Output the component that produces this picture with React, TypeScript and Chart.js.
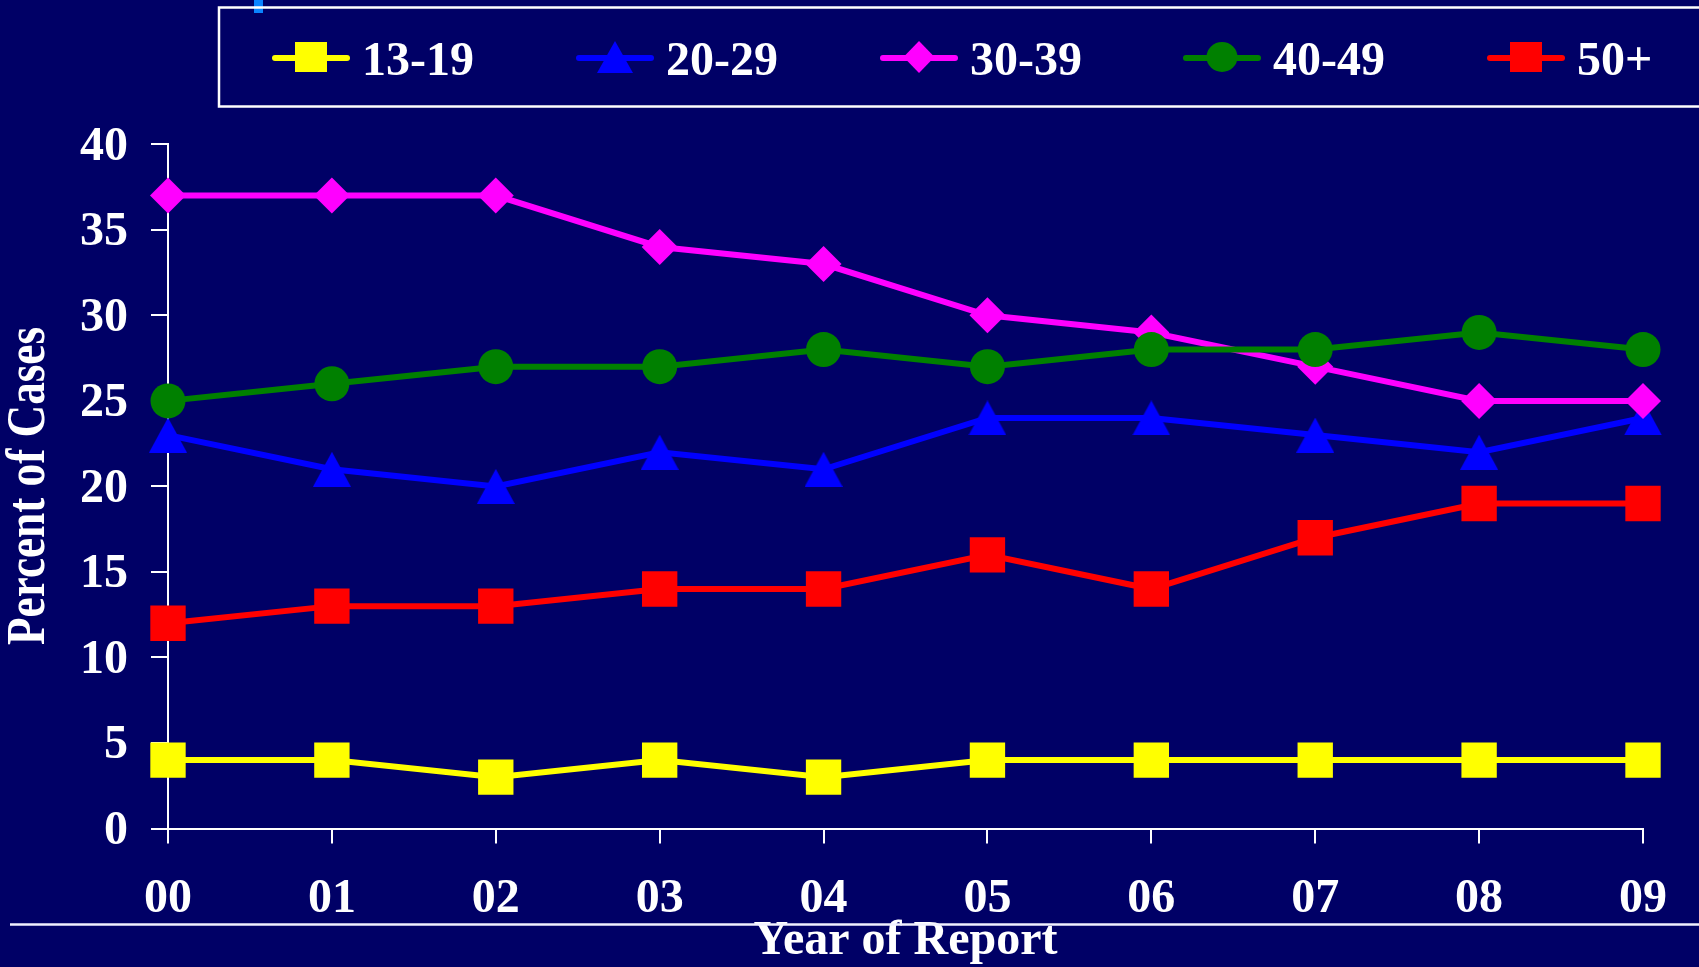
import React, { useEffect, useRef } from 'react';
import { Chart, registerables } from 'chart.js';

Chart.register(...registerables);

// ---------- data ----------
const years = ['00', '01', '02', '03', '04', '05', '06', '07', '08', '09'];
const seriesLabels = ['13-19', '20-29', '30-39', '40-49', '50+'];
const ages13to19 = [4, 4, 3, 4, 3, 4, 4, 4, 4, 4];
const ages20to29 = [23, 21, 20, 22, 21, 24, 24, 23, 22, 24];
const ages30to39 = [37, 37, 37, 34, 33, 30, 29, 27, 25, 25];
const ages40to49 = [25, 26, 27, 27, 28, 27, 28, 28, 29, 28];
const ages50plus = [12, 13, 13, 14, 14, 16, 14, 17, 19, 19];
const yMin = 0;
const yMax = 40;
const yStep = 5;
const xTitle = 'Year of Report';
const yTitle = 'Percent of Cases';

// ---------- style ----------
const FONT = '"Liberation Serif", "Times New Roman", serif';
const BG = '#000066';
const colors = ['#FFFF00', '#0000FF', '#FF00FF', '#008000', '#FF0000'];
const markers = ['square', 'triangle', 'diamond', 'circle', 'square'];

function makeTriangle(w: number, h: number, color: string) {
  const c = document.createElement('canvas');
  c.width = w;
  c.height = h;
  const g = c.getContext('2d')!;
  g.fillStyle = color;
  g.beginPath();
  g.moveTo(w / 2, 0);
  g.lineTo(w, h);
  g.lineTo(0, h);
  g.closePath();
  g.fill();
  return c;
}

function drawLegendMarker(ctx: CanvasRenderingContext2D, kind: string, x: number, y: number, color: string) {
  ctx.fillStyle = color;
  ctx.beginPath();
  if (kind === 'square') {
    ctx.rect(x - 16, y - 15, 32, 30);
  } else if (kind === 'triangle') {
    ctx.moveTo(x, y - 16);
    ctx.lineTo(x + 18, y + 16);
    ctx.lineTo(x - 18, y + 16);
    ctx.closePath();
  } else if (kind === 'diamond') {
    ctx.moveTo(x, y - 16);
    ctx.lineTo(x + 15.5, y);
    ctx.lineTo(x, y + 16);
    ctx.lineTo(x - 15.5, y);
    ctx.closePath();
  } else {
    ctx.ellipse(x, y, 15.5, 15, 0, 0, Math.PI * 2);
  }
  ctx.fill();
}

const decorPlugin = {
  id: 'decor',
  beforeDraw(chart: any) {
    const ctx = chart.ctx as CanvasRenderingContext2D;
    ctx.save();
    ctx.fillStyle = BG;
    ctx.fillRect(0, 0, chart.width, chart.height);
    ctx.restore();
  },
  afterDraw(chart: any) {
    const ctx = chart.ctx as CanvasRenderingContext2D;
    ctx.save();
    // small blue artifact at top
    ctx.fillStyle = '#0A84FF';
    ctx.fillRect(254, 0, 9, 13);

    // legend box
    ctx.strokeStyle = '#FFFFFF';
    ctx.lineWidth = 2.5;
    ctx.strokeRect(219, 7.5, 1600, 99);

    // legend items
    const starts = [272, 576, 880, 1183, 1487];
    const ly = 58;
    seriesLabels.forEach((lab, i) => {
      const xs = starts[i];
      ctx.strokeStyle = colors[i];
      ctx.lineWidth = 6;
      ctx.lineCap = 'round';
      ctx.beginPath();
      ctx.moveTo(xs + 3, ly);
      ctx.lineTo(xs + 75, ly);
      ctx.stroke();
      drawLegendMarker(ctx, markers[i], xs + 39, ly - 1, colors[i]);
      ctx.fillStyle = '#FFFFFF';
      ctx.font = `bold 48px ${FONT}`;
      ctx.textAlign = 'left';
      ctx.textBaseline = 'alphabetic';
      ctx.fillText(lab, xs + 90, 75);
    });

    // y-axis title (condensed, rotated)
    ctx.font = `bold 55px ${FONT}`;
    const w = ctx.measureText(yTitle).width;
    const sx = 318 / w;
    ctx.translate(44, 486);
    ctx.rotate(-Math.PI / 2);
    ctx.scale(sx, 1);
    ctx.fillStyle = '#FFFFFF';
    ctx.textAlign = 'center';
    ctx.textBaseline = 'alphabetic';
    ctx.fillText(yTitle, 0, 0);
    ctx.restore();

    // bottom separator line
    ctx.save();
    ctx.strokeStyle = '#F0F0FF';
    ctx.lineWidth = 2.5;
    ctx.beginPath();
    ctx.moveTo(10, 924.5);
    ctx.lineTo(chart.width, 924.5);
    ctx.stroke();
    ctx.restore();
  },
};

export default function App() {
  const ref = useRef<HTMLCanvasElement | null>(null);

  useEffect(() => {
    if (!ref.current) return;
    const tri = makeTriangle(38, 35, colors[1]);
    const seriesData = [ages13to19, ages20to29, ages30to39, ages40to49, ages50plus];
    const pointStyles: any[] = ['rect', tri, 'rectRot', 'circle', 'rect'];
    const radii = [25, 19, 18, 17.5, 25];
    const orders = [4, 3, 2, 1, 0];

    const chart = new Chart(ref.current, {
      type: 'line',
      data: {
        labels: years,
        datasets: seriesLabels.map((lab, i) => ({
          label: lab,
          data: seriesData[i],
          borderColor: colors[i],
          backgroundColor: colors[i],
          borderWidth: 6,
          pointStyle: pointStyles[i],
          pointRadius: radii[i],
          pointBackgroundColor: colors[i],
          pointBorderColor: colors[i],
          pointBorderWidth: 0,
          tension: 0,
          fill: false,
          clip: false as any,
          order: orders[i],
        })),
      },
      options: {
        responsive: false,
        animation: false,
        events: [],
        layout: { padding: { top: 144.3, right: 56, left: 0, bottom: 0 } },
        plugins: {
          legend: { display: false },
          tooltip: { enabled: false },
          title: { display: false },
        },
        scales: {
          x: {
            type: 'category',
            offset: false,
            grid: {
              display: true,
              drawOnChartArea: false,
              drawTicks: true,
              tickLength: 15,
              color: '#FFFFFF',
              lineWidth: 2,
            },
            border: { display: true, color: '#FFFFFF', width: 2 },
            ticks: {
              color: '#FFFFFF',
              font: { family: FONT, size: 48, weight: 'bold', lineHeight: 1 },
              padding: 32,
              maxRotation: 0,
              autoSkip: false,
            },
            title: {
              display: true,
              text: xTitle,
              color: '#FFFFFF',
              font: { family: FONT, size: 48, weight: 'bold', lineHeight: 1 },
              padding: { top: 0, bottom: 1 },
            },
            afterFit: (s: any) => {
              s.height = 138.5;
            },
          },
          y: {
            min: yMin,
            max: yMax,
            grid: {
              display: true,
              drawOnChartArea: false,
              drawTicks: true,
              tickLength: 17,
              color: '#FFFFFF',
              lineWidth: 2,
            },
            border: { display: true, color: '#FFFFFF', width: 2 },
            ticks: {
              stepSize: yStep,
              color: '#FFFFFF',
              font: { family: FONT, size: 48, weight: 'bold', lineHeight: 1 },
              padding: 23,
              labelOffset: 3,
            },
            afterFit: (s: any) => {
              s.width = 168;
            },
          },
        },
      } as any,
      plugins: [decorPlugin],
    });
    return () => chart.destroy();
  }, []);

  return (
    <div
      style={{
        position: 'fixed',
        left: 0,
        top: 0,
        width: 1699,
        height: 967,
        background: BG,
        overflow: 'hidden',
      }}
    >
      <canvas ref={ref} width={1699} height={967} style={{ display: 'block' }} />
    </div>
  );
}
